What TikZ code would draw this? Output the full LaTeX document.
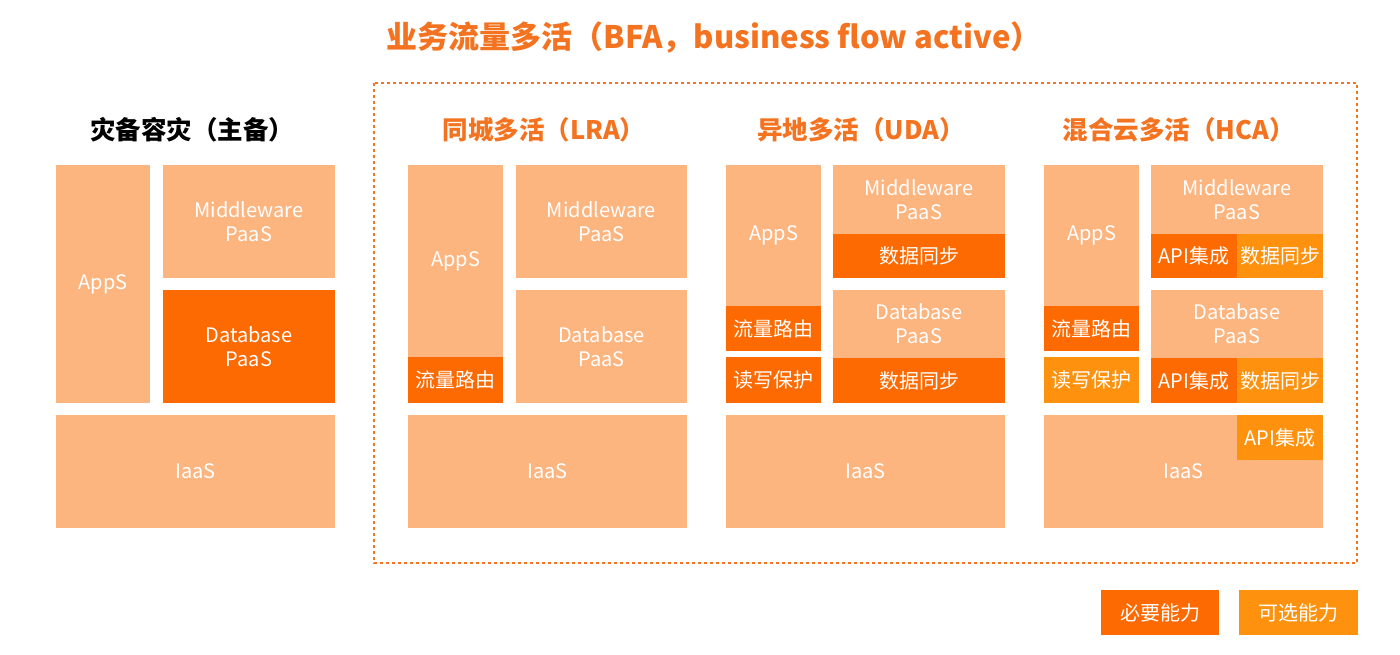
\documentclass[tikz,border=0pt]{standalone}
\usepackage{fontspec}
\setmainfont{Noto Sans CJK SC}
\definecolor{lightc}{HTML}{FDB580}
\definecolor{darkc}{HTML}{FD6A02}
\definecolor{optc}{HTML}{FE920E}
\definecolor{ttlc}{HTML}{F47320}
\begin{document}
\begin{tikzpicture}[x=1pt,y=-1pt,
  blk/.style={anchor=north west, inner sep=0pt, outer sep=0pt, text=white,
    font=\fontsize{20}{24}\selectfont, align=center},
  coltitle/.style={font=\fontsize{25.5}{30}\selectfont\bfseries, text=ttlc},
  frame/.style={draw=ttlc, line width=1.1pt, dash pattern=on 3pt off 3pt}]
\newcommand{\blkbox}[7]{\node[blk, fill=#6, minimum width=#4, minimum height=#5] (#1) at (#2,#3) {#7};}
\useasboundingbox (0,0) rectangle (1400,655);
\fill[white] (0,0) rectangle (1400,655);

% main title and dashed frame
\node[font=\fontsize{31}{35}\selectfont\bfseries, text=ttlc] (main) at (714,38) {业务流量多活（BFA，business flow active）};
\draw[frame] (374,83) rectangle (1357,563);

% column titles
\node[font=\fontsize{25.5}{30}\selectfont\bfseries] (t1) at (192,130) {灾备容灾（主备）};
\node[coltitle] (t2) at (544,130) {同城多活（LRA）};
\node[coltitle] (t3) at (861,130) {异地多活（UDA）};
\node[coltitle] (t4) at (1179,130) {混合云多活（HCA）};

% column 1
\blkbox{a1}{56}{165}{94}{238}{lightc}{AppS}
\blkbox{m1}{163}{165}{172}{113}{lightc}{Middleware\\PaaS}
\blkbox{d1}{163}{290}{172}{113}{darkc}{Database\\PaaS}
\blkbox{i1}{56}{415}{279}{113}{lightc}{IaaS}

% column 2
\blkbox{a2}{408}{165}{95}{192}{lightc}{AppS}
\blkbox{r2}{408}{357}{95}{46}{darkc}{流量路由}
\blkbox{m2}{516}{165}{171}{113}{lightc}{Middleware\\PaaS}
\blkbox{d2}{516}{290}{171}{113}{lightc}{Database\\PaaS}
\blkbox{i2}{408}{415}{279}{113}{lightc}{IaaS}

% column 3
\blkbox{a3}{726}{165}{95}{141}{lightc}{AppS}
\blkbox{r3}{726}{306}{95}{45}{darkc}{流量路由}
\blkbox{w3}{726}{357}{95}{46}{darkc}{读写保护}
\blkbox{m3}{833}{165}{172}{69}{lightc}{Middleware\\PaaS}
\blkbox{ms3}{833}{234}{172}{44}{darkc}{数据同步}
\blkbox{d3}{833}{290}{172}{68}{lightc}{Database\\PaaS}
\blkbox{ds3}{833}{358}{172}{45}{darkc}{数据同步}
\blkbox{i3}{726}{415}{279}{113}{lightc}{IaaS}

% column 4
\blkbox{a4}{1044}{165}{95}{141}{lightc}{AppS}
\blkbox{r4}{1044}{306}{95}{45}{darkc}{流量路由}
\blkbox{w4}{1044}{357}{95}{46}{optc}{读写保护}
\blkbox{m4}{1151}{165}{172}{69}{lightc}{Middleware\\PaaS}
\blkbox{ma4}{1151}{234}{86}{44}{darkc}{API集成}
\blkbox{ms4}{1237}{234}{86}{44}{optc}{数据同步}
\blkbox{d4}{1151}{290}{172}{68}{lightc}{Database\\PaaS}
\blkbox{da4}{1151}{358}{86}{45}{darkc}{API集成}
\blkbox{ds4}{1237}{358}{86}{45}{optc}{数据同步}
\blkbox{i4}{1044}{415}{279}{113}{lightc}{IaaS}
\blkbox{ia4}{1237}{415}{86}{45}{optc}{API集成}

% legend
\blkbox{l1}{1101}{590}{118}{45}{darkc}{必要能力}
\blkbox{l2}{1239}{590}{119}{45}{optc}{可选能力}
\end{tikzpicture}
\end{document}
